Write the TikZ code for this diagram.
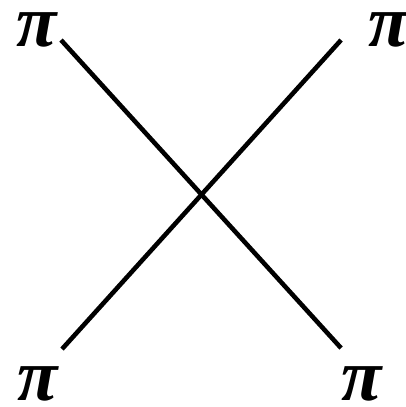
\documentclass[tikz,border=0pt]{standalone}
\usepackage{fontspec}
\newfontfamily\greekfont{Liberation Serif}
\begin{document}
\begin{tikzpicture}[xscale = 0.02, yscale = -0.02]
	\useasboundingbox (0,0) rectangle (405,407);
	\tikzset{lbl/.style = {inner sep = 0pt, font = \greekfont\bfseries\itshape\fontsize{42}{42}\selectfont}}
	\node [lbl] (tl) at (37,30) {π};
	\node [lbl] (tr) at (389,30) {π};
	\node [lbl] (bl) at (38,384) {π};
	\node [lbl] (br) at (362,384) {π};
	\coordinate (a) at (61,40);
	\coordinate (b) at (341,348);
	\coordinate (c) at (62,349);
	\coordinate (d) at (341,40);
	\draw [line width = 2.6pt] (a) -- (b);
	\draw [line width = 2.6pt] (c) -- (d);
\end{tikzpicture}
\end{document}
